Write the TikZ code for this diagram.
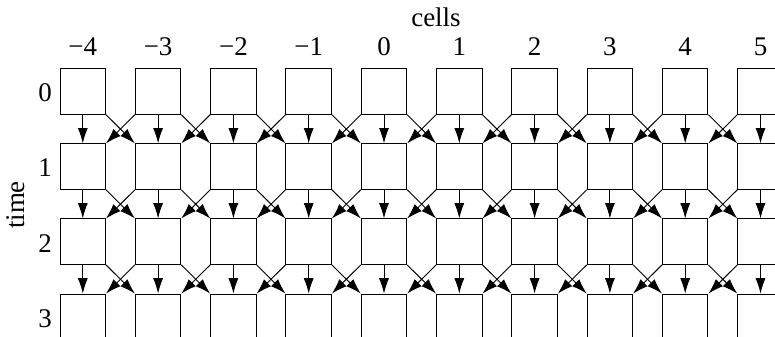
\documentclass[tikz,border=0pt]{standalone}
\usepackage{fontspec}
\setmainfont{Liberation Serif}
\usetikzlibrary{arrows.meta}

\begin{document}
\begin{tikzpicture}[x=0.03cm,y=-0.03cm,
  cellbox/.style={draw,line width=0.8pt,minimum size=1.365cm,inner sep=0pt},
  arr/.style={-{Latex[length=4.6mm,width=3mm]},line width=0.8pt},
  lbl/.style={font=\fontsize{23}{27}\selectfont,inner sep=0pt}
]
\useasboundingbox (0,0) rectangle (775,337);
\clip (0,0) rectangle (775,337);
% cells
\foreach \r in {0,...,3}
  \foreach \c in {0,...,9}
    \node[cellbox] (b-\r-\c) at (82.8+75.3*\c,91.5+75.1*\r) {};
% updates
\foreach \r [evaluate=\r as \rn using int(\r+1)] in {0,1,2} {
  \foreach \c in {0,...,9}
    \draw[arr] (b-\r-\c.south) -- (b-\rn-\c.north);
  \foreach \c [evaluate=\c as \cn using int(\c+1)] in {0,...,8} {
    \draw[arr] (b-\r-\c.south east) -- (b-\rn-\cn.north west);
    \draw[arr] (b-\r-\cn.south west) -- (b-\rn-\c.north east);
  }
}
% labels
\node[lbl] (cells) at (436,17) {cells};
\foreach \lab [count=\c from 0] in {−4,−3,−2,−1,0,1,2,3,4,5}
  \node[lbl] (col-\c) at (82.8+75.3*\c,47) {\lab};
\foreach \r in {0,...,3}
  \node[lbl] (row-\r) at (45,93+75.1*\r) {\r};
\node[lbl,rotate=90] (time) at (16,205) {time};
\end{tikzpicture}
\end{document}
